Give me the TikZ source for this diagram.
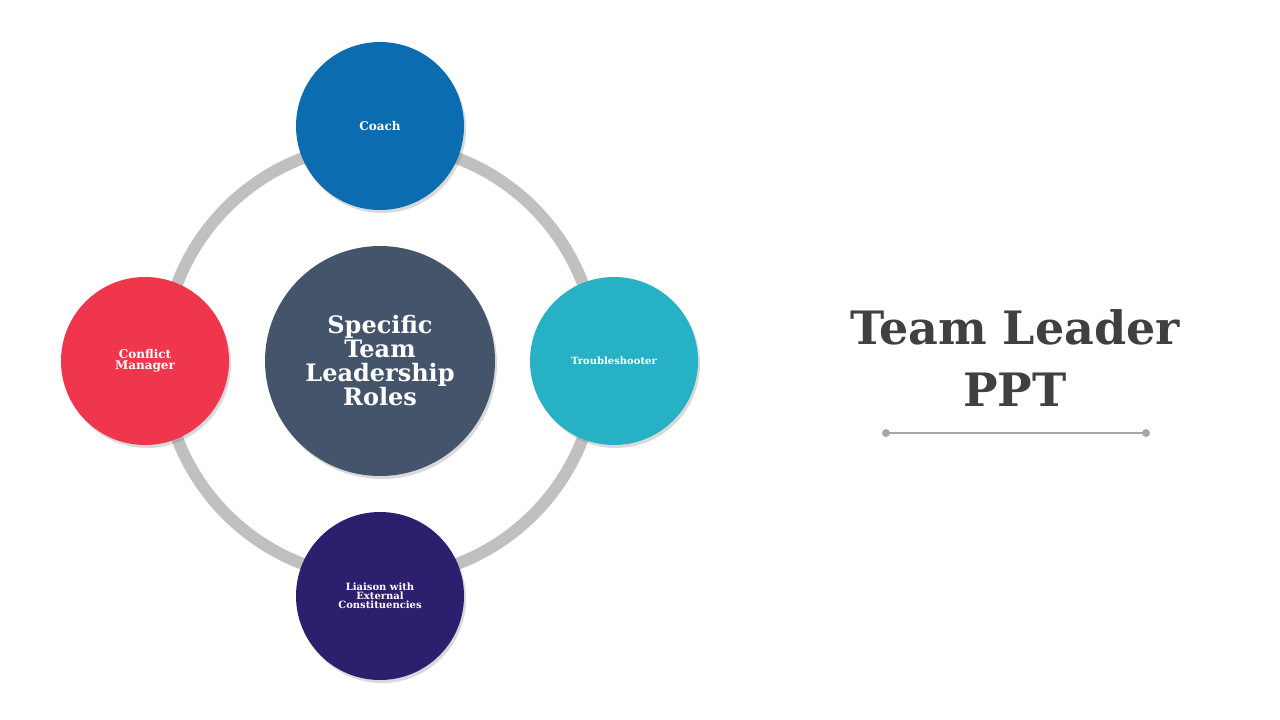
\documentclass[tikz,border=0pt]{standalone}
\usepackage{fontspec}
\setmainfont{DejaVu Serif}
\usetikzlibrary{shadows}
\definecolor{coachc}{HTML}{0B6DB0}
\definecolor{troubc}{HTML}{26B1C4}
\definecolor{confc}{HTML}{EF364D}
\definecolor{liac}{HTML}{2D1E6E}
\definecolor{centc}{HTML}{44546A}
\definecolor{ringc}{HTML}{C0C0C0}
\definecolor{titc}{HTML}{404040}
\tikzset{role/.style={circle,minimum size=168pt,inner sep=0pt,text=white,font=\bfseries,align=center,drop shadow={shadow xshift=2pt,shadow yshift=-3pt,opacity=0.3}}}
\begin{document}
\begin{tikzpicture}[x=1pt,y=-1pt]
\useasboundingbox (0,0) rectangle (1280,720);
\draw[ringc,line width=12pt] (380,361) circle (217);
\node[role,fill=coachc,font=\bfseries\large] (coach) at (380,126) {Coach};
\node[role,fill=troubc,font=\bfseries\normalsize] (troub) at (614,361) {Troubleshooter};
\node[role,fill=confc,font=\bfseries\large] (conf) at (145,361) {Conflict\\[-3pt]Manager};
\node[role,fill=liac,font=\bfseries\normalsize] (lia) at (380,596) {Liaison with\\[-3pt]External\\[-3pt]Constituencies};
\node[role,fill=centc,minimum size=230pt,font=\bfseries\fontsize{24}{30}\selectfont] (cent) at (380,361) {Specific\\[-6pt]Team\\[-6pt]Leadership\\[-6pt]Roles};
\node[text=titc,font=\bfseries\fontsize{46}{62}\selectfont,align=center] (title) at (1015,358) {Team Leader\\PPT};
\coordinate (la) at (886,433);
\coordinate (lb) at (1146,433);
\draw[gray!70,line width=1.2pt] (la) -- (lb);
\fill[gray!70] (la) circle (4) (lb) circle (4);
\end{tikzpicture}
\end{document}
